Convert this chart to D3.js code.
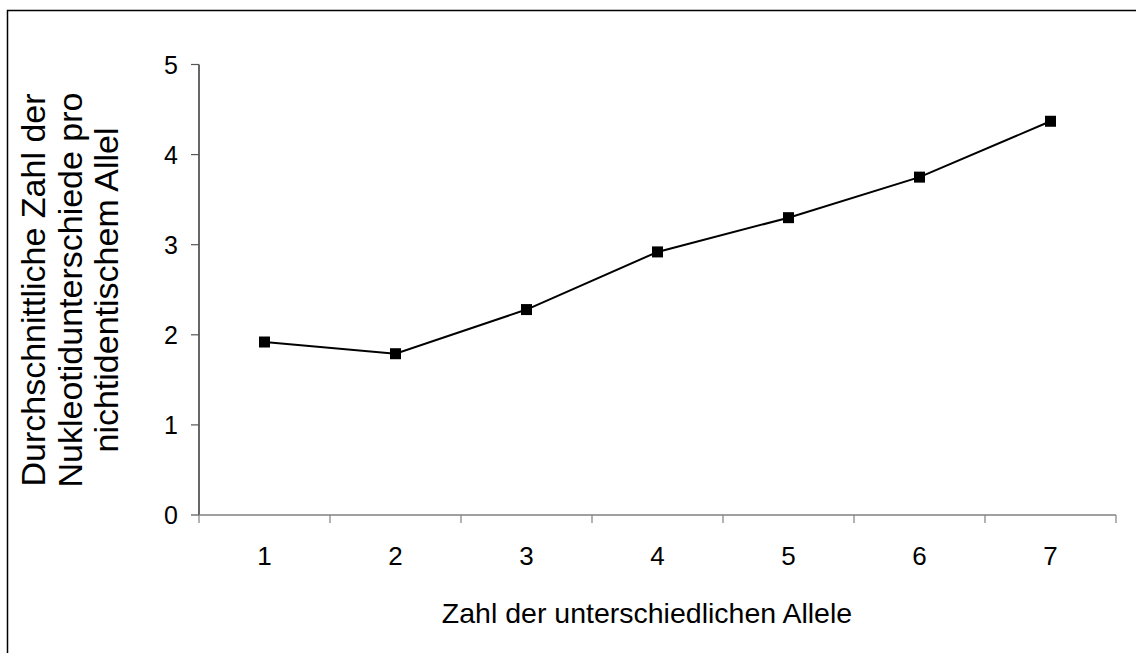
<!DOCTYPE html>
<html>
<head>
<meta charset="utf-8">
<script src="https://cdn.jsdelivr.net/npm/d3@7"></script>
<style>
  body { margin: 0; background: #fff; }
  svg { display: block; font-family: "Liberation Sans", Arial, sans-serif; }
</style>
</head>
<body>
<div id="chart"></div>
<script>
// Daten
const categories = ["1", "2", "3", "4", "5", "6", "7"];
const values = [1.92, 1.79, 2.28, 2.92, 3.30, 3.75, 4.37];
const yTicks = [0, 1, 2, 3, 4, 5];
const xTitle = "Zahl der unterschiedlichen Allele";
const yTitleLines = ["Durchschnittliche Zahl der", "Nukleotidunterschiede pro", "nichtidentischem Allel"];

const width = 1136, height = 653;
const svg = d3.select("#chart").append("svg").attr("width", width).attr("height", height);

// Rahmen (rechts/unten ausserhalb des Bildes)
svg.append("rect").attr("x", 7.5).attr("y", 10.5).attr("width", 1140).attr("height", 660)
    .attr("fill", "none").attr("stroke", "#000").attr("stroke-width", 1.5);

const x = d3.scaleBand().domain(categories).range([199, 1116]).padding(0);
const y = d3.scaleLinear().domain([0, 5]).range([515, 64.5]);

// y-Achse
const yAxis = svg.append("g");
yAxis.append("line").attr("x1", 199).attr("x2", 199).attr("y1", y(5)).attr("y2", y(0))
    .attr("stroke", "#000").attr("stroke-width", 1.2);
yAxis.selectAll("line.tick").data(yTicks).enter().append("line")
    .attr("class", "tick")
    .attr("x1", 191).attr("x2", 199)
    .attr("y1", d => y(d)).attr("y2", d => y(d))
    .attr("stroke", "#555").attr("stroke-width", 1.2);
yAxis.selectAll("text").data(yTicks).enter().append("text")
    .attr("x", 178).attr("y", d => y(d) + 9)
    .attr("text-anchor", "end")
    .style("font-size", "25px").style("fill", "#000")
    .text(d => d);

// x-Achse
const xAxis = svg.append("g");
xAxis.append("line").attr("x1", 199).attr("x2", 1116).attr("y1", y(0)).attr("y2", y(0))
    .attr("stroke", "#808080").attr("stroke-width", 1.5);
const edges = categories.map(c => x(c)).concat([x.range()[1]]);
xAxis.selectAll("line.tick").data(edges).enter().append("line")
    .attr("class", "tick")
    .attr("x1", d => d).attr("x2", d => d)
    .attr("y1", y(0)).attr("y2", y(0) + 8)
    .attr("stroke", "#808080").attr("stroke-width", 1.2);
xAxis.selectAll("text").data(categories).enter().append("text")
    .attr("x", d => x(d) + x.bandwidth() / 2)
    .attr("y", 565)
    .attr("text-anchor", "middle")
    .style("font-size", "26px").style("fill", "#000")
    .text(d => d);

// Achsentitel
svg.append("text").attr("x", 647).attr("y", 623).attr("text-anchor", "middle")
    .style("font-size", "28.5px").style("fill", "#000").text(xTitle);

const yTitle = svg.append("text")
    .attr("transform", "translate(45,290) rotate(-90)")
    .attr("text-anchor", "middle")
    .style("font-size", "34px").style("fill", "#000");
yTitleLines.forEach((t, i) => {
    yTitle.append("tspan").attr("x", 0).attr("y", i * 36.5).text(t);
});

// Linie und Marker
const pts = categories.map((c, i) => ({ c: c, v: values[i] }));
const line = d3.line().x(d => x(d.c) + x.bandwidth() / 2).y(d => y(d.v));
svg.append("path").datum(pts).attr("d", line)
    .attr("fill", "none").attr("stroke", "#000").attr("stroke-width", 2);
const ms = 11;
svg.selectAll("rect.marker").data(pts).enter().append("rect")
    .attr("class", "marker")
    .attr("x", d => x(d.c) + x.bandwidth() / 2 - ms / 2)
    .attr("y", d => y(d.v) - ms / 2)
    .attr("width", ms).attr("height", ms)
    .attr("fill", "#000");
</script>
</body>
</html>
